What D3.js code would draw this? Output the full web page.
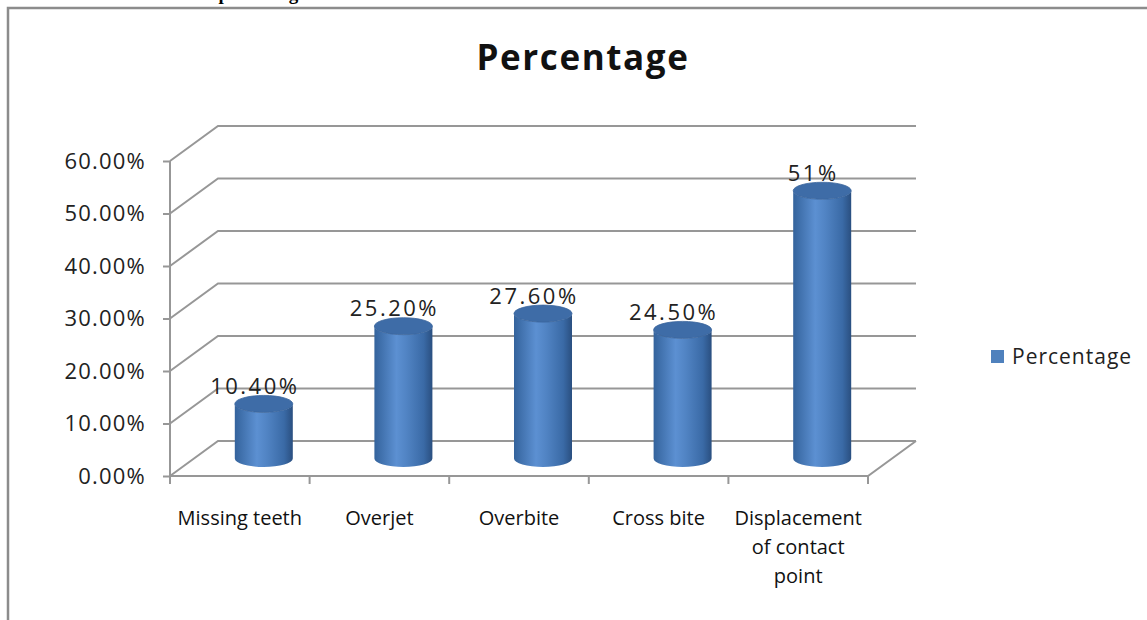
<!DOCTYPE html>
<html>
<head>
<meta charset="utf-8">
<script src="https://cdn.jsdelivr.net/npm/d3@7"></script>
<style>
  body { margin: 0; background: #fff; }
  text { font-family: "Open Sans", Lato, sans-serif; fill: #222; }
</style>
</head>
<body>
<div class="chart"></div>
<script>
// chart data
const categories = ["Missing teeth", "Overjet", "Overbite", "Cross bite", "Displacement of contact point"];
const values = [10.4, 25.2, 27.6, 24.5, 51];
const valueLabels = ["10.40%", "25.20%", "27.60%", "24.50%", "51%"];
const yTicks = [0, 10, 20, 30, 40, 50, 60];
const seriesName = "Percentage";

const width = 1147;
const height = 620;

const svg = d3.select(".chart")
    .append("svg")
    .attr("width", width)
    .attr("height", height);

const defs = svg.append("defs");
const grad = defs.append("linearGradient")
    .attr("id", "cyl")
    .attr("x1", "0%").attr("x2", "100%")
    .attr("y1", "0%").attr("y2", "0%");
[["0%", "#34639c"], ["38%", "#5c90d2"], ["55%", "#5184c4"], ["85%", "#3a6aa6"], ["100%", "#2a4f80"]]
    .forEach(([o, c]) => grad.append("stop").attr("offset", o).attr("stop-color", c));

// caption cut off at the top of the picture (as in the source page)
svg.append("text")
    .attr("x", 30)
    .attr("y", 0)
    .style("font-family", "'Liberation Serif', serif")
    .style("font-weight", "bold")
    .style("font-size", "19px")
    .style("fill", "#000")
    .text("Table 2: Data scores of percentage of the malocclusion");

// outer frame
svg.append("path")
    .attr("d", `M8,${height} L8,8 L${width},8`)
    .attr("fill", "none")
    .attr("stroke", "#8c8c8c")
    .attr("stroke-width", 2.5);

// title
svg.append("text")
    .attr("x", 583)
    .attr("y", 70)
    .attr("text-anchor", "middle")
    .style("font-size", "35px")
    .style("font-weight", "bold")
    .style("letter-spacing", "1.6px")
    .style("fill", "#111")
    .text(seriesName);

// plot geometry
const plotLeft = 170, plotRight = 868, plotBottom = 476, plotTop = 161;
const dx = 48, dy = -35;

const x = d3.scaleBand()
    .domain(categories)
    .range([plotLeft, plotRight]);
const y = d3.scaleLinear()
    .domain([0, 60])
    .range([plotBottom, plotTop]);

const grid = svg.append("g")
    .attr("fill", "none")
    .attr("stroke", "#979797")
    .attr("stroke-width", 2);

// side wall diagonals + back wall lines
yTicks.forEach(t => {
    grid.append("path")
        .attr("d", `M${plotLeft},${y(t)} L${plotLeft + dx},${y(t) + dy} L${plotRight + dx},${y(t) + dy}`);
});
// floor
grid.append("path")
    .attr("d", `M${plotRight + dx},${plotBottom + dy} L${plotRight},${plotBottom} L${plotLeft},${plotBottom}`);
grid.append("line")
    .attr("x1", plotLeft).attr("x2", plotLeft)
    .attr("y1", plotTop).attr("y2", plotBottom);

// y axis labels and ticks
const yAxis = d3.axisLeft(y)
    .tickValues(yTicks)
    .tickSize(7)
    .tickPadding(17)
    .tickFormat(d => d3.format(".2f")(d) + "%");
const yg = svg.append("g")
    .attr("transform", `translate(${plotLeft},0)`)
    .call(yAxis);
yg.select(".domain").remove();
yg.selectAll(".tick line").attr("stroke", "#979797").attr("stroke-width", 2);
yg.selectAll(".tick text")
    .style("font-size", "22px")
    .style("font-family", "'Open Sans', sans-serif")
    .style("letter-spacing", "1.2px")
    .attr("fill", "#222");

// x ticks under the front floor edge
const xEdges = categories.map(c => x(c)).concat([plotRight]);
svg.append("g")
    .selectAll("line")
    .data(xEdges)
    .join("line")
    .attr("x1", d => d).attr("x2", d => d)
    .attr("y1", plotBottom).attr("y2", plotBottom + 8)
    .attr("stroke", "#979797")
    .attr("stroke-width", 2);

// category labels (wrapped)
const wrapLines = {
    "Displacement of contact point": ["Displacement", "of contact", "point"]
};
const catG = svg.append("g")
    .selectAll("text")
    .data(categories)
    .join("text")
    .attr("x", d => x(d) + x.bandwidth() / 2)
    .attr("y", 525)
    .attr("text-anchor", "middle")
    .style("font-size", "20px")
    .style("font-family", "'Open Sans', sans-serif")
    .style("fill", "#111");
catG.each(function (d) {
    const lines = wrapLines[d] || [d];
    d3.select(this).selectAll("tspan")
        .data(lines)
        .join("tspan")
        .attr("x", x(d) + x.bandwidth() / 2)
        .attr("dy", (l, i) => i === 0 ? 0 : 29)
        .text(l => l);
});

// cylinders at mid depth
const rx = 29, ry = 8.5;
const bars = svg.append("g")
    .selectAll("g")
    .data(categories.map((c, i) => ({ c, v: values[i], label: valueLabels[i] })))
    .join("g");

bars.each(function (d) {
    const g = d3.select(this);
    const cx = x(d.c) + x.bandwidth() / 2 + dx / 2;
    const b = y(0) + dy / 2;
    const t = y(d.v) + dy / 2;
    g.append("path")
        .attr("d", `M${cx - rx},${t} L${cx - rx},${b} A${rx},${ry} 0 0 0 ${cx + rx},${b} L${cx + rx},${t} A${rx},${ry} 0 0 1 ${cx - rx},${t} Z`)
        .attr("fill", "url(#cyl)");
    g.append("ellipse")
        .attr("cx", cx)
        .attr("cy", t)
        .attr("rx", rx)
        .attr("ry", ry)
        .attr("fill", "#3e6ca7")
        .attr("stroke", "#3a659c")
        .attr("stroke-width", 0.8);
    g.append("text")
        .attr("x", cx - 9)
        .attr("y", t - 10)
        .attr("text-anchor", "middle")
        .style("font-size", "22px")
        .style("letter-spacing", "2.5px")
        .text(d.label);
});

// legend
const legend = svg.append("g").attr("transform", "translate(991,350)");
legend.append("rect")
    .attr("width", 13)
    .attr("height", 13)
    .attr("fill", "#4f81bd");
legend.append("text")
    .attr("x", 21)
    .attr("y", 14)
    .style("font-size", "21px")
    .style("letter-spacing", "1px")
    .text(seriesName);
</script>
</body>
</html>
